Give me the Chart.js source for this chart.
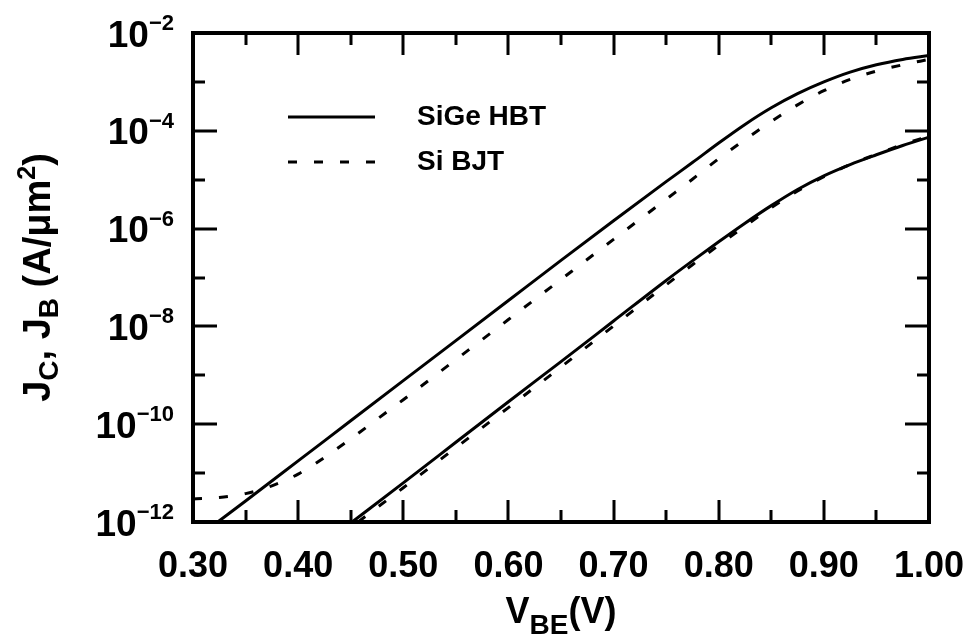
<!DOCTYPE html>
<html>
<head>
<meta charset="utf-8">
<script src="https://cdn.jsdelivr.net/npm/chart.js@4.4.1/dist/chart.umd.min.js"></script>
<style>
html,body{margin:0;padding:0;background:#ffffff;}
#wrap{width:971px;height:640px;position:relative;}
</style>
</head>
<body>
<div id="wrap"><canvas id="chart" width="971" height="640"></canvas></div>
<script>
// ---- Data (V_BE in volts, log10 of J in A/um^2) ----
const vbeSiGeJc = [0.3235,0.35,0.40,0.45,0.50,0.55,0.60,0.65,0.70,0.75,0.775,0.80,0.825,0.85,0.875,0.90,0.925,0.95,0.975,1.00];
const logJcSiGe = [-12,-11.57,-10.75,-9.93,-9.11,-8.29,-7.47,-6.65,-5.84,-5.04,-4.65,-4.25,-3.87,-3.53,-3.24,-3.00,-2.80,-2.65,-2.54,-2.46];

const vbeSiJc = [0.30,0.325,0.35,0.375,0.40,0.425,0.45,0.475,0.50,0.55,0.60,0.65,0.70,0.75,0.775,0.80,0.825,0.85,0.875,0.90,0.925,0.95,0.975,1.00];
const logJcSi = [-11.53,-11.50,-11.42,-11.26,-11.02,-10.68,-10.30,-9.90,-9.50,-8.68,-7.86,-7.04,-6.22,-5.40,-4.99,-4.57,-4.18,-3.81,-3.47,-3.18,-2.95,-2.78,-2.65,-2.54];

const vbeSiGeJb = [0.4513,0.50,0.55,0.60,0.65,0.70,0.75,0.775,0.80,0.825,0.85,0.875,0.90,0.925,0.95,0.975,1.00];
const logJbSiGe = [-12,-11.20,-10.37,-9.54,-8.72,-7.89,-7.06,-6.66,-6.27,-5.89,-5.53,-5.20,-4.92,-4.69,-4.49,-4.30,-4.13];

const vbeSiJb = [0.457,0.50,0.55,0.60,0.65,0.70,0.75,0.775,0.80,0.825,0.85,0.875,0.90,0.925,0.95,0.975,1.00];
const logJbSi = [-12,-11.30,-10.48,-9.66,-8.83,-7.99,-7.15,-6.74,-6.34,-5.95,-5.57,-5.23,-4.94,-4.69,-4.48,-4.28,-4.11];

// ---- Axis ticks and labels ----
const xTickValues = [0.30,0.35,0.40,0.45,0.50,0.55,0.60,0.65,0.70,0.75,0.80,0.85,0.90,0.95,1.00];
const xMajorValues = [0.30,0.40,0.50,0.60,0.70,0.80,0.90,1.00];
const xTickLabels = ['0.30','0.40','0.50','0.60','0.70','0.80','0.90','1.00'];
const yTickExponents = [-12,-11,-10,-9,-8,-7,-6,-5,-4,-3,-2];
const yLabelExponents = [-12,-10,-8,-6,-4,-2];
const seriesNames = ['SiGe HBT','Si BJT'];

const FONT = '"Liberation Sans", Arial, Helvetica, sans-serif';
const toPoints = (xs, logs) => xs.map((x, i) => ({x: x, y: Math.pow(10, logs[i])}));

const DASH = [9, 17];

const decorPlugin = {
  id: 'decor',
  afterDraw(chart) {
    const ctx = chart.ctx;
    const xs = chart.scales.x, ys = chart.scales.y;
    const L = chart.chartArea.left, R = chart.chartArea.right;
    const T = chart.chartArea.top, B = chart.chartArea.bottom;
    ctx.save();
    ctx.strokeStyle = '#000';
    ctx.fillStyle = '#000';
    ctx.lineCap = 'butt';

    // tick marks (inside, on all four sides)
    ctx.lineWidth = 3;
    ctx.beginPath();
    xTickValues.forEach(v => {
      const px = Math.round(xs.getPixelForValue(v));
      const major = xMajorValues.some(m => Math.abs(m - v) < 1e-6);
      const len = major ? 22 : 12;
      ctx.moveTo(px, B); ctx.lineTo(px, B - len);
      ctx.moveTo(px, T); ctx.lineTo(px, T + len);
    });
    yTickExponents.forEach(e => {
      const py = Math.round(ys.getPixelForValue(Math.pow(10, e)));
      const major = (e % 2 === 0);
      const len = major ? 24 : 12;
      ctx.moveTo(L, py); ctx.lineTo(L + len, py);
      ctx.moveTo(R, py); ctx.lineTo(R - len, py);
    });
    ctx.stroke();

    // frame
    ctx.lineWidth = 4;
    ctx.strokeRect(L, T, R - L, B - T);

    // x tick labels
    ctx.font = 'bold 36px ' + FONT;
    ctx.textAlign = 'center';
    ctx.textBaseline = 'alphabetic';
    xMajorValues.forEach((v, i) => {
      ctx.fillText(xTickLabels[i], xs.getPixelForValue(v), 577);
    });

    // y tick labels: 10 with superscript exponent
    yLabelExponents.forEach(e => {
      const py = ys.getPixelForValue(Math.pow(10, e));
      const base = '10';
      const sup = '\u2212' + Math.abs(e);
      ctx.font = 'bold 22px ' + FONT;
      const wSup = ctx.measureText(sup).width;
      ctx.font = 'bold 37px ' + FONT;
      const wBase = ctx.measureText(base).width;
      const right = L - 19;
      ctx.textAlign = 'left';
      ctx.fillText(base, right - wSup - wBase, py + 13.5);
      ctx.font = 'bold 22px ' + FONT;
      ctx.fillText(sup, right - wSup, py - 3);
    });

    // x axis title: V_BE(V)
    const xParts = [
      {t: 'V', size: 36, dy: 0},
      {t: 'BE', size: 28, dy: 11},
      {t: '(V)', size: 36, dy: 0}
    ];
    drawParts(ctx, xParts, (L + R) / 2, 623);

    // y axis title (rotated): J_C, J_B (A/µm²)
    const yParts = [
      {t: 'J', size: 38, dy: 0},
      {t: 'C', size: 28, dy: 8},
      {t: ', J', size: 38, dy: 0},
      {t: 'B', size: 28, dy: 8},
      {t: ' (A/\u03BCm', size: 38, dy: 0},
      {t: '2', size: 25, dy: -15},
      {t: ')', size: 38, dy: 0}
    ];
    ctx.save();
    ctx.translate(50, (T + B) / 2);
    ctx.rotate(-Math.PI / 2);
    drawParts(ctx, yParts, 0, 0);
    ctx.restore();

    // legend
    const ds = chart.data.datasets;
    const legendRows = [{y: 117, ds: ds[0]}, {y: 162, ds: ds[1]}];
    legendRows.forEach((row, i) => {
      ctx.save();
      ctx.lineWidth = row.ds.borderWidth;
      ctx.setLineDash(row.ds.borderDash || []);
      ctx.beginPath();
      ctx.moveTo(288, row.y);
      ctx.lineTo(375, row.y);
      ctx.stroke();
      ctx.restore();
      ctx.font = 'bold 28px ' + FONT;
      ctx.textAlign = 'left';
      ctx.fillText(seriesNames[i], 417, row.y + 8);
    });

    ctx.restore();
  }
};

function drawParts(ctx, parts, cx, baseY) {
  let total = 0;
  parts.forEach(p => { ctx.font = 'bold ' + p.size + 'px ' + FONT; p.w = ctx.measureText(p.t).width; total += p.w; });
  let x = cx - total / 2;
  ctx.textAlign = 'left';
  ctx.textBaseline = 'alphabetic';
  parts.forEach(p => {
    ctx.font = 'bold ' + p.size + 'px ' + FONT;
    ctx.fillText(p.t, x, baseY + p.dy);
    x += p.w;
  });
}

const lineBase = {
  borderColor: '#000',
  backgroundColor: '#000',
  borderWidth: 3,
  pointRadius: 0,
  fill: false,
  cubicInterpolationMode: 'monotone',
  clip: 0
};

new Chart(document.getElementById('chart'), {
  type: 'line',
  data: {
    datasets: [
      Object.assign({label: 'SiGe HBT J_C', data: toPoints(vbeSiGeJc, logJcSiGe)}, lineBase),
      Object.assign({label: 'Si BJT J_C', data: toPoints(vbeSiJc, logJcSi), borderDash: DASH}, lineBase),
      Object.assign({label: 'SiGe HBT J_B', data: toPoints(vbeSiGeJb, logJbSiGe)}, lineBase),
      Object.assign({label: 'Si BJT J_B', data: toPoints(vbeSiJb, logJbSi), borderDash: DASH}, lineBase)
    ]
  },
  options: {
    responsive: false,
    animation: false,
    devicePixelRatio: 1,
    layout: {padding: {left: 193, right: 42, top: 33, bottom: 118}},
    plugins: {legend: {display: false}, tooltip: {enabled: false}},
    scales: {
      x: {
        type: 'linear', min: 0.30, max: 1.00, display: false
      },
      y: {
        type: 'logarithmic', min: 1e-12, max: 1e-2, display: false
      }
    }
  },
  plugins: [decorPlugin]
});
</script>
</body>
</html>
